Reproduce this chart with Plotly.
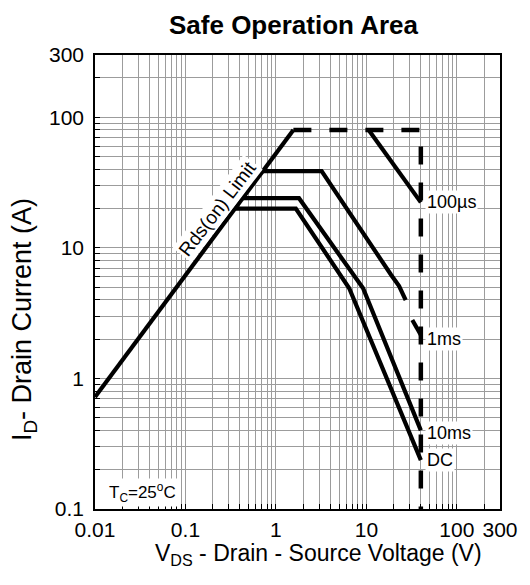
import math
import plotly.graph_objects as go

# ---- data ----
rds_x = [0.01, 1.56]
rds_y = [0.72, 80]

limit_x = [1.56, 40, 40]
limit_y = [80, 80, 0.1]

us100_x = [10.6, 40]
us100_y = [80, 22.3]

ms1_x = [0.72, 3.2, 18.8, 23.0, 27.2]
ms1_y = [38.7, 38.7, 6.2, 5.1, 3.98]
ms1_tail_x = [32.2, 40]
ms1_tail_y = [2.8, 2.15]

ms10_x = [0.43, 1.80, 9.2, 40]
ms10_y = [24, 24, 4.9, 0.40]

dc_x = [0.35, 1.66, 6.46, 40]
dc_y = [20, 20, 4.9, 0.237]

curve_labels = ["100\u00b5s", "1ms", "10ms", "DC"]
curve_label_y = [22.3, 2.0, 0.384, 0.237]
label_x = 40

x_tick_labels = {0.01: "0.01", 0.1: "0.1", 1: "1", 10: "10", 100: "100", 300: "300"}
y_tick_labels = {0.1: "0.1", 1: "1", 10: "10", 100: "100", 300: "300"}

x_grid = [round(m * 10 ** e, 6) for e in range(-2, 2) for m in range(1, 10)] + [100, 200, 300]
y_grid = [round(m * 10 ** e, 6) for e in range(-1, 2) for m in range(1, 10)] + [100, 200, 300]

FONT = "Arial, Liberation Sans, Helvetica, sans-serif"
LW = 4.2

fig = go.Figure()

def add_line(x, y, dash="solid", width=LW):
    fig.add_trace(go.Scatter(x=x, y=y, mode="lines",
                             line=dict(color="black", width=width, dash=dash),
                             showlegend=False, hoverinfo="skip"))

add_line(rds_x, rds_y)
add_line(limit_x, limit_y, dash="18px,18px", width=4.5)
add_line(us100_x, us100_y)
add_line(ms1_x, ms1_y)
add_line(ms1_tail_x, ms1_tail_y)
add_line(ms10_x, ms10_y)
add_line(dc_x, dc_y)

axis_common = dict(
    type="log",
    showgrid=True, gridcolor="#9c9c9c", gridwidth=1,
    ticks="inside", ticklen=5, tickcolor="black", tickwidth=1,
    showline=True, linecolor="black", linewidth=1.5, mirror=True,
    zeroline=False,
    tickfont=dict(family=FONT, size=21, color="black"),
    tickmode="array",
)

fig.update_xaxes(
    **axis_common,
    range=[-2, math.log10(300)],
    tickvals=x_grid,
    ticktext=[x_tick_labels.get(v, "") for v in x_grid],
    ticklabelstandoff=1,
)
fig.update_yaxes(
    **axis_common,
    range=[-1, math.log10(300)],
    tickvals=y_grid,
    ticktext=[y_tick_labels.get(v, "") for v in y_grid],
    ticklabelstandoff=5,
)

ann = []
for txt, yv in zip(curve_labels, curve_label_y):
    ann.append(dict(x=math.log10(label_x), y=math.log10(yv), xref="x", yref="y",
                    text=txt, showarrow=False, xanchor="left", yanchor="middle",
                    xshift=4, bgcolor="white", borderpad=1,
                    font=dict(family=FONT, size=18, color="black")))

ann.append(dict(x=math.log10(0.2255), y=math.log10(20.2), xref="x", yref="y",
                text="Rds(on) Limit", showarrow=False, textangle=-52.6,
                bgcolor="white", borderpad=1,
                font=dict(family=FONT, size=19, color="black")))

ann.append(dict(x=(107 - 95) / 417, y=(509 - 492) / 454, xref="paper", yref="paper",
                text="T<sub>C</sub>=25<sup>o</sup>C", showarrow=False,
                xanchor="left", yanchor="middle", bgcolor="white", borderpad=1,
                font=dict(family=FONT, size=17, color="black")))

# axis titles & chart title
ann.append(dict(x=(22 - 95) / 417, y=(509 - 320) / 454, xref="paper", yref="paper",
                text="I<sub>D</sub>- Drain Current (A)", showarrow=False, textangle=-90,
                xanchor="center", yanchor="middle",
                font=dict(family=FONT, size=27, color="black")))
ann.append(dict(x=(325 - 95) / 417, y=(509 - 554) / 454, xref="paper", yref="paper",
                text="V<sub>DS</sub> - Drain - Source Voltage (V)", showarrow=False,
                xanchor="center", yanchor="middle",
                font=dict(family=FONT, size=23, color="black")))
ann.append(dict(x=(300 - 95) / 417, y=(509 - 25) / 454, xref="paper", yref="paper",
                text="<b>Safe Operation Area</b>", showarrow=False,
                xanchor="center", yanchor="middle",
                font=dict(family=FONT, size=26, color="black")))

fig.update_layout(
    width=530, height=585,
    margin=dict(l=95, r=18, t=55, b=76),
    paper_bgcolor="white", plot_bgcolor="white",
    annotations=ann,
    showlegend=False,
)

fig.write_html("out.html")
